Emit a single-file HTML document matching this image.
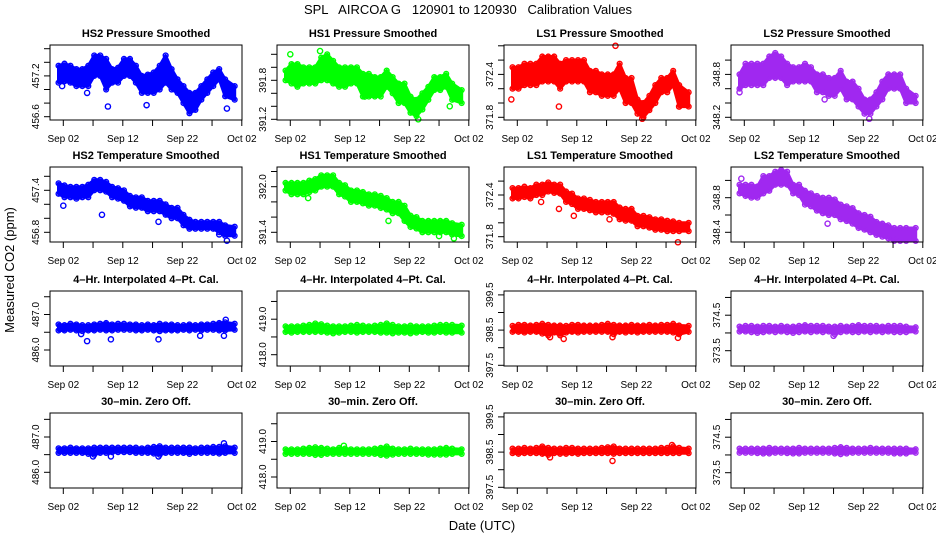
<!DOCTYPE html>
<html><head><meta charset="utf-8"><style>
html,body{margin:0;padding:0;background:#fff;}
svg{display:block;font-family:"Liberation Sans",Arial,sans-serif;}
</style></head><body>
<svg id="chart" width="936" height="540" viewBox="0 0 936 540" xmlns="http://www.w3.org/2000/svg">
<rect width="936" height="540" fill="#fff"/>
<text x="468" y="14" text-anchor="middle" font-size="13" style="white-space:pre">SPL   AIRCOA G   120901 to 120930   Calibration Values</text>
<text transform="translate(14,270) rotate(-90)" text-anchor="middle" font-size="13">Measured CO2 (ppm)</text>
<text x="482" y="530" text-anchor="middle" font-size="13">Date (UTC)</text>
<g id="panels"></g>
</svg>
<script>
const days=[1.2,2.2,3.2,4.2,5.2,6.2,7.2,8.2,9.2,10.2,11.2,12.2,13.2,14.2,15.2,16.2,17.2,18.2,19.2,20.2,21.2,22.2,23.2,24.2,25.2,26.2,27.2,28.2,29.2,30.8];
const xTickDays=[2,12,22,32];
const xTickLabels=["Sep 02","Sep 12","Sep 22","Oct 02"];
const xMinorDays=[7,17,27];

const p1Hi=[457.35,457.38,457.35,457.3,457.3,457.35,457.5,457.5,457.45,457.3,457.32,457.45,457.45,457.35,457.2,457.22,457.25,457.35,457.5,457.3,457.15,457.05,456.95,456.95,457.05,457.15,457.25,457.3,457.15,457.05];
const p1Lo=[457.1,457.12,457.1,457.05,457.05,457.05,457.2,457.2,457.0,457.1,457.1,457.2,457.2,457.1,456.95,456.95,456.95,457.0,457.1,457.0,456.95,456.8,456.65,456.7,456.85,456.95,457.05,457.15,456.9,456.85];
const p1OutX=[6,9.5,16,29.5,1.8];
const p1OutY=[456.95,456.75,456.77,456.72,457.05];
const p2Hi=[391.95,392.05,392.05,392.0,392.0,392.0,392.15,392.2,392.1,392.0,392.0,392.0,392.0,391.9,391.9,391.85,391.85,391.95,391.85,391.75,391.75,391.55,391.5,391.6,391.7,391.85,391.85,391.9,391.75,391.65];
const p2Lo=[391.8,391.75,391.7,391.75,391.75,391.75,391.8,391.8,391.75,391.7,391.7,391.75,391.75,391.55,391.55,391.55,391.55,391.7,391.6,391.45,391.45,391.3,391.25,391.35,391.5,391.65,391.65,391.7,391.5,391.45];
const p2OutX=[7,14.5,23.5,28.8,2];
const p2OutY=[392.25,391.55,391.2,391.4,392.2];
const p3Hi=[372.5,372.5,372.55,372.55,372.55,372.65,372.65,372.65,372.55,372.6,372.6,372.6,372.6,372.45,372.45,372.4,372.4,372.4,372.55,372.35,372.35,372.05,372.0,372.1,372.25,372.35,372.35,372.45,372.25,372.15];
const p3Lo=[372.2,372.2,372.25,372.25,372.25,372.3,372.3,372.3,372.2,372.3,372.3,372.3,372.3,372.15,372.15,372.1,372.1,372.1,372.2,372.0,372.0,371.85,371.8,371.9,372.0,372.15,372.15,372.25,371.95,371.95];
const p3OutX=[1,9,18.5,29.2,23];
const p3OutY=[372.05,371.95,372.8,371.95,371.78];
const p4Hi=[348.8,348.95,348.95,348.95,348.95,349.05,349.1,349.05,348.95,348.9,348.9,348.95,348.9,348.8,348.8,348.75,348.75,348.85,348.7,348.7,348.6,348.45,348.45,348.55,348.7,348.8,348.8,348.8,348.6,348.5];
const p4Lo=[348.6,348.65,348.65,348.65,348.65,348.75,348.75,348.75,348.65,348.7,348.7,348.7,348.7,348.55,348.55,348.5,348.5,348.6,348.45,348.45,348.35,348.25,348.25,348.35,348.45,348.6,348.6,348.6,348.4,348.4];
const p4OutX=[1.2,15.5,23];
const p4OutY=[348.55,348.45,348.18];
const p5Hi=[457.5,457.47,457.45,457.45,457.45,457.48,457.55,457.55,457.52,457.45,457.43,457.4,457.32,457.3,457.3,457.25,457.25,457.25,457.2,457.15,457.15,457.05,456.98,456.95,456.95,456.95,456.95,456.95,456.9,456.88];
const p5Lo=[457.35,457.3,457.3,457.28,457.3,457.3,457.4,457.4,457.38,457.3,457.28,457.25,457.17,457.15,457.15,457.1,457.1,457.1,457.05,457.0,457.0,456.9,456.85,456.85,456.85,456.85,456.85,456.8,456.75,456.75];
const p5OutX=[2,8.5,18,29.5,28.2];
const p5OutY=[457.18,457.05,456.95,456.68,456.77];
const p6Hi=[392.05,392.05,392.05,392.05,392.08,392.1,392.15,392.15,392.15,392.05,392.02,391.95,391.95,391.93,391.9,391.9,391.88,391.85,391.8,391.8,391.75,391.62,391.6,391.55,391.55,391.55,391.55,391.55,391.52,391.5];
const p6Lo=[391.95,391.9,391.9,391.9,391.93,391.95,392.0,392.0,392.0,391.9,391.87,391.8,391.8,391.78,391.75,391.75,391.72,391.7,391.65,391.65,391.55,391.47,391.45,391.4,391.4,391.4,391.4,391.4,391.37,391.35];
const p6OutX=[5,18.5,27,29.5];
const p6OutY=[391.85,391.55,391.35,391.32];
const p7Hi=[372.5,372.5,372.52,372.5,372.55,372.55,372.58,372.55,372.55,372.45,372.42,372.35,372.35,372.33,372.3,372.3,372.3,372.3,372.22,372.2,372.2,372.1,372.1,372.08,372.05,372.05,372.03,372.02,372.0,372.0];
const p7Lo=[372.35,372.35,372.37,372.35,372.4,372.4,372.45,372.43,372.42,372.3,372.27,372.2,372.2,372.18,372.15,372.15,372.15,372.13,372.05,372.03,372.03,371.95,371.95,371.93,371.9,371.9,371.88,371.88,371.88,371.88];
const p7OutX=[6,9,11.5,17.5,29];
const p7OutY=[372.3,372.2,372.1,372.05,371.72];
const p8Hi=[348.95,348.95,348.95,348.93,349.05,349.05,349.1,349.12,349.1,348.95,348.95,348.88,348.85,348.82,348.8,348.8,348.78,348.72,348.7,348.68,348.62,348.6,348.58,348.52,348.5,348.48,348.45,348.45,348.45,348.45];
const p8Lo=[348.85,348.82,348.8,348.8,348.85,348.88,348.95,348.95,348.95,348.85,348.83,348.72,348.7,348.65,348.62,348.6,348.6,348.55,348.53,348.5,348.45,348.43,348.4,348.37,348.35,348.33,348.3,348.3,348.3,348.3];
const p8OutX=[16,1.5,27];
const p8OutY=[348.5,349.02,348.33];
const p9Hi=[486.72,486.7,486.74,486.72,486.7,486.7,486.72,486.74,486.76,486.72,486.74,486.74,486.72,486.72,486.7,486.72,486.7,486.74,486.72,486.72,486.7,486.7,486.72,486.7,486.72,486.72,486.74,486.76,486.78,486.74];
const p9Lo=[486.55,486.55,486.57,486.55,486.53,486.55,486.55,486.57,486.55,486.55,486.57,486.57,486.57,486.55,486.55,486.57,486.55,486.53,486.55,486.55,486.55,486.57,486.55,486.57,486.55,486.57,486.57,486.55,486.55,486.57];
const p9OutX=[5,6,10,18,25,29,29.3];
const p9OutY=[486.45,486.25,486.3,486.3,486.4,486.4,486.85];
const p10Hi=[418.8,418.8,418.8,418.82,418.84,418.88,418.86,418.82,418.8,418.8,418.8,418.82,418.84,418.82,418.8,418.82,418.84,418.88,418.84,418.8,418.8,418.82,418.8,418.8,418.8,418.82,418.84,418.84,418.84,418.82];
const p10Lo=[418.64,418.62,418.64,418.64,418.64,418.64,418.64,418.62,418.6,418.62,418.64,418.64,418.62,418.64,418.64,418.64,418.62,418.62,418.6,418.62,418.62,418.6,418.62,418.64,418.62,418.62,418.64,418.62,418.62,418.62];
const p10OutX=[];
const p10OutY=[];
const p11Hi=[398.62,398.65,398.65,398.63,398.65,398.68,398.65,398.63,398.63,398.62,398.65,398.65,398.63,398.63,398.63,398.65,398.68,398.65,398.63,398.63,398.65,398.63,398.63,398.65,398.63,398.65,398.65,398.68,398.63,398.62];
const p11Lo=[398.45,398.45,398.43,398.45,398.45,398.4,398.35,398.43,398.35,398.43,398.45,398.43,398.45,398.45,398.45,398.45,398.45,398.38,398.45,398.43,398.45,398.43,398.45,398.45,398.45,398.45,398.45,398.43,398.38,398.45];
const p11OutX=[7.5,9.8,18,29];
const p11OutY=[398.3,398.25,398.3,398.28];
const p12Hi=[374.18,374.2,374.2,374.18,374.2,374.2,374.18,374.2,374.18,374.18,374.2,374.22,374.2,374.2,374.2,374.18,374.18,374.2,374.18,374.2,374.22,374.2,374.2,374.2,374.18,374.2,374.2,374.2,374.18,374.16];
const p12Lo=[374.04,374.04,374.02,374.0,374.02,374.04,374.02,374.04,374.02,374.0,374.02,374.04,374.02,374.04,374.02,374.04,373.96,374.02,374.04,374.02,374.02,374.04,374.02,374.04,374.02,374.04,374.02,374.02,374.02,374.04];
const p12OutX=[17];
const p12OutY=[373.92];
const p13Hi=[486.68,486.68,486.7,486.68,486.68,486.68,486.7,486.7,486.7,486.7,486.7,486.7,486.7,486.7,486.68,486.7,486.72,486.74,486.7,486.7,486.7,486.7,486.7,486.68,486.7,486.7,486.72,486.72,486.74,486.7];
const p13Lo=[486.55,486.55,486.55,486.55,486.55,486.52,486.5,486.55,486.55,486.57,486.57,486.57,486.57,486.55,486.55,486.55,486.53,486.5,486.55,486.55,486.55,486.55,486.52,486.55,486.55,486.55,486.55,486.53,486.55,486.55];
const p13OutX=[7,10,18,29];
const p13OutY=[486.45,486.45,486.45,486.82];
const p14Hi=[418.78,418.78,418.78,418.8,418.82,418.84,418.82,418.8,418.78,418.82,418.8,418.78,418.78,418.78,418.78,418.8,418.82,418.86,418.8,418.78,418.78,418.8,418.78,418.78,418.78,418.78,418.8,418.82,418.8,418.78];
const p14Lo=[418.65,418.65,418.65,418.65,418.65,418.62,418.62,418.65,418.65,418.65,418.65,418.65,418.65,418.65,418.65,418.65,418.62,418.6,418.63,418.65,418.65,418.65,418.65,418.65,418.63,418.63,418.63,418.63,418.65,418.65];
const p14OutX=[11];
const p14OutY=[418.88];
const p15Hi=[398.6,398.6,398.62,398.6,398.62,398.66,398.62,398.6,398.6,398.62,398.62,398.6,398.6,398.6,398.6,398.62,398.64,398.66,398.6,398.6,398.6,398.6,398.6,398.6,398.6,398.62,398.62,398.66,398.62,398.6];
const p15Lo=[398.47,398.45,398.47,398.47,398.47,398.45,398.42,398.47,398.45,398.45,398.47,398.45,398.47,398.47,398.47,398.47,398.47,398.45,398.47,398.47,398.47,398.47,398.47,398.47,398.47,398.47,398.47,398.47,398.47,398.47];
const p15OutX=[7.5,18,28];
const p15OutY=[398.35,398.25,398.7];
const p16Hi=[374.18,374.18,374.18,374.18,374.18,374.2,374.18,374.18,374.18,374.18,374.2,374.18,374.18,374.18,374.18,374.18,374.2,374.22,374.2,374.18,374.18,374.18,374.2,374.18,374.18,374.18,374.18,374.18,374.18,374.16];
const p16Lo=[374.06,374.06,374.06,374.05,374.04,374.04,374.06,374.06,374.05,374.04,374.04,374.06,374.06,374.06,374.06,374.06,374.04,374.02,374.04,374.06,374.06,374.06,374.06,374.06,374.06,374.06,374.04,374.04,374.04,374.06];
const p16OutX=[];
const p16OutY=[];

const colLeft=[50,277,504,731];
const rowTop=[45,167,291,413];
const boxW=192, boxH=75;
const BLUE="#0000ff", GREEN="#00ff00", RED="#ff0000", PURPLE="#a028f0";
// y axis: [refValue, refPixelOffsetFromTop, pixelsPerUnit], tick step, labelled ticks
const panels=[
 {name:"hs2-pressure",title:"HS2 Pressure Smoothed",r:0,c:0,hi:p1Hi,lo:p1Lo,ox:p1OutX,oy:p1OutY,col:BLUE,ya:[456.6,71.7,68],tk:[456.6,456.8,457.0,457.2,457.4,457.6],lb:[456.6,457.2],dec:1},
 {name:"hs1-pressure",title:"HS1 Pressure Smoothed",r:0,c:1,hi:p2Hi,lo:p2Lo,ox:p2OutX,oy:p2OutY,col:GREEN,ya:[391.2,74.3,65],tk:[391.2,391.4,391.6,391.8,392.0,392.2],lb:[391.2,391.8],dec:1},
 {name:"ls1-pressure",title:"LS1 Pressure Smoothed",r:0,c:2,hi:p3Hi,lo:p3Lo,ox:p3OutX,oy:p3OutY,col:RED,ya:[371.8,72.3,71.5],tk:[371.8,372.0,372.2,372.4,372.6,372.8],lb:[371.8,372.4],dec:1},
 {name:"ls2-pressure",title:"LS2 Pressure Smoothed",r:0,c:3,hi:p4Hi,lo:p4Lo,ox:p4OutX,oy:p4OutY,col:PURPLE,ya:[348.2,72.3,71.5],tk:[348.2,348.4,348.6,348.8,349.0],lb:[348.2,348.8],dec:1},
 {name:"hs2-temperature",title:"HS2 Temperature Smoothed",r:1,c:0,hi:p5Hi,lo:p5Lo,ox:p5OutX,oy:p5OutY,col:BLUE,ya:[456.8,65.3,70],tk:[456.8,457.0,457.2,457.4,457.6],lb:[456.8,457.4],dec:1},
 {name:"hs1-temperature",title:"HS1 Temperature Smoothed",r:1,c:1,hi:p6Hi,lo:p6Lo,ox:p6OutX,oy:p6OutY,col:GREEN,ya:[391.4,65.3,76],tk:[391.4,391.6,391.8,392.0,392.2],lb:[391.4,392.0],dec:1},
 {name:"ls1-temperature",title:"LS1 Temperature Smoothed",r:1,c:2,hi:p7Hi,lo:p7Lo,ox:p7OutX,oy:p7OutY,col:RED,ya:[371.8,69.7,69.5],tk:[371.8,372.0,372.2,372.4,372.6],lb:[371.8,372.4],dec:1},
 {name:"ls2-temperature",title:"LS2 Temperature Smoothed",r:1,c:3,hi:p8Hi,lo:p8Lo,ox:p8OutX,oy:p8OutY,col:PURPLE,ya:[348.4,65.3,86.5],tk:[348.4,348.6,348.8,349.0],lb:[348.4,348.8],dec:1},
 {name:"hs2-4hr-cal",title:"4\u2013Hr. Interpolated 4\u2013Pt. Cal.",r:2,c:0,hi:p9Hi,lo:p9Lo,ox:p9OutX,oy:p9OutY,col:BLUE,ya:[486.0,59,35.5],tk:[486.0,486.5,487.0,487.5],lb:[486.0,487.0],dec:1},
 {name:"hs1-4hr-cal",title:"4\u2013Hr. Interpolated 4\u2013Pt. Cal.",r:2,c:1,hi:p10Hi,lo:p10Lo,ox:p10OutX,oy:p10OutY,col:GREEN,ya:[418.0,63.7,35.5],tk:[418.0,418.5,419.0,419.5],lb:[418.0,419.0],dec:1},
 {name:"ls1-4hr-cal",title:"4\u2013Hr. Interpolated 4\u2013Pt. Cal.",r:2,c:2,hi:p11Hi,lo:p11Lo,ox:p11OutX,oy:p11OutY,col:RED,ya:[397.5,74.3,35.2],tk:[397.5,398.0,398.5,399.0,399.5],lb:[397.5,398.5,399.5],dec:1},
 {name:"ls2-4hr-cal",title:"4\u2013Hr. Interpolated 4\u2013Pt. Cal.",r:2,c:3,hi:p12Hi,lo:p12Lo,ox:p12OutX,oy:p12OutY,col:PURPLE,ya:[373.5,59.7,35.5],tk:[373.5,374.0,374.5,375.0],lb:[373.5,374.5],dec:1},
 {name:"hs2-zero-off",title:"30\u2013min. Zero Off.",r:3,c:0,hi:p13Hi,lo:p13Lo,ox:p13OutX,oy:p13OutY,col:BLUE,ya:[486.0,59.3,35.3],tk:[486.0,486.5,487.0,487.5],lb:[486.0,487.0],dec:1},
 {name:"hs1-zero-off",title:"30\u2013min. Zero Off.",r:3,c:1,hi:p14Hi,lo:p14Lo,ox:p14OutX,oy:p14OutY,col:GREEN,ya:[418.0,64,35.5],tk:[418.0,418.5,419.0,419.5],lb:[418.0,419.0],dec:1},
 {name:"ls1-zero-off",title:"30\u2013min. Zero Off.",r:3,c:2,hi:p15Hi,lo:p15Lo,ox:p15OutX,oy:p15OutY,col:RED,ya:[397.5,74.3,35.2],tk:[397.5,398.0,398.5,399.0,399.5],lb:[397.5,398.5,399.5],dec:1},
 {name:"ls2-zero-off",title:"30\u2013min. Zero Off.",r:3,c:3,hi:p16Hi,lo:p16Lo,ox:p16OutX,oy:p16OutY,col:PURPLE,ya:[373.5,59.7,35.5],tk:[373.5,374.0,374.5,375.0],lb:[373.5,374.5],dec:1}
];
const NS="http://www.w3.org/2000/svg";
const root=document.getElementById('panels');
function mk(tag,attrs,parent){const e=document.createElementNS(NS,tag);for(const k in attrs)e.setAttribute(k,attrs[k]);parent.appendChild(e);return e;}
panels.forEach(p=>{
  const L=colLeft[p.c], T=rowTop[p.r], B=T+boxH;
  const g=mk('g',{},root);
  
  
  const xs=d=>L+13.3+(d-2)*5.95;
  const ys=v=>T+p.ya[1]-(v-p.ya[0])*p.ya[2];
  const t=mk('text',{x:L+boxW/2,y:T-8,'text-anchor':'middle','font-size':'11','font-weight':'bold'},g);
  t.textContent=p.title;
  
  
  // data band
  let pts=[];
  days.forEach((d,i)=>pts.push(xs(d).toFixed(1)+','+ys(p.hi[i]).toFixed(1)));
  for(let i=days.length-1;i>=0;i--)pts.push(xs(days[i]).toFixed(1)+','+ys(p.lo[i]).toFixed(1));
  const band=mk('polygon',{points:pts.join(' '),fill:p.col,stroke:p.col,'stroke-width':'3','stroke-linejoin':'round'},g);
  
  
  const pg=mk('g',{fill:'none',stroke:p.col,'stroke-width':'1.4'},g);
  
  
  days.forEach((d,i)=>{
    const c1=mk('circle',{cx:xs(d),cy:ys(p.hi[i]),r:2.4},pg);
    
    
    const c2=mk('circle',{cx:xs(d),cy:ys(p.lo[i]),r:2.4},pg);
    
    
  });
  p.ox.forEach((d,i)=>{
    const c=mk('circle',{cx:xs(d),cy:ys(p.oy[i]),r:2.6},pg);
    
    
  });
  // frame
  const fr=mk('rect',{x:L,y:T,width:boxW,height:boxH,fill:'none',stroke:'#000','stroke-width':'1'},g);
  
  
  // x axis
  const xa=mk('g',{},g);
  
  
  xTickDays.concat(xMinorDays).forEach(d=>{mk('line',{x1:xs(d),x2:xs(d),y1:B,y2:B+6,stroke:'#000'},xa);});
  xTickDays.forEach((d,i)=>{
    const tx=mk('text',{x:xs(d),y:B+22,'text-anchor':'middle','font-size':'10'},xa);
    tx.textContent=xTickLabels[i];
    
    
  });
  // y axis
  const ya=mk('g',{},g);
  
  
  p.tk.forEach(v=>{const y=ys(v); if(y>=T-1&&y<=B+1) mk('line',{x1:L-6,x2:L,y1:y,y2:y,stroke:'#000'},ya);});
  p.lb.forEach(v=>{
    const y=ys(v);
    const tx=mk('text',{transform:'translate('+(L-11)+','+y.toFixed(1)+') rotate(-90)','text-anchor':'middle','font-size':'10'},ya);
    tx.textContent=v.toFixed(p.dec);
    
    
  });
});
</script>
</body></html>
